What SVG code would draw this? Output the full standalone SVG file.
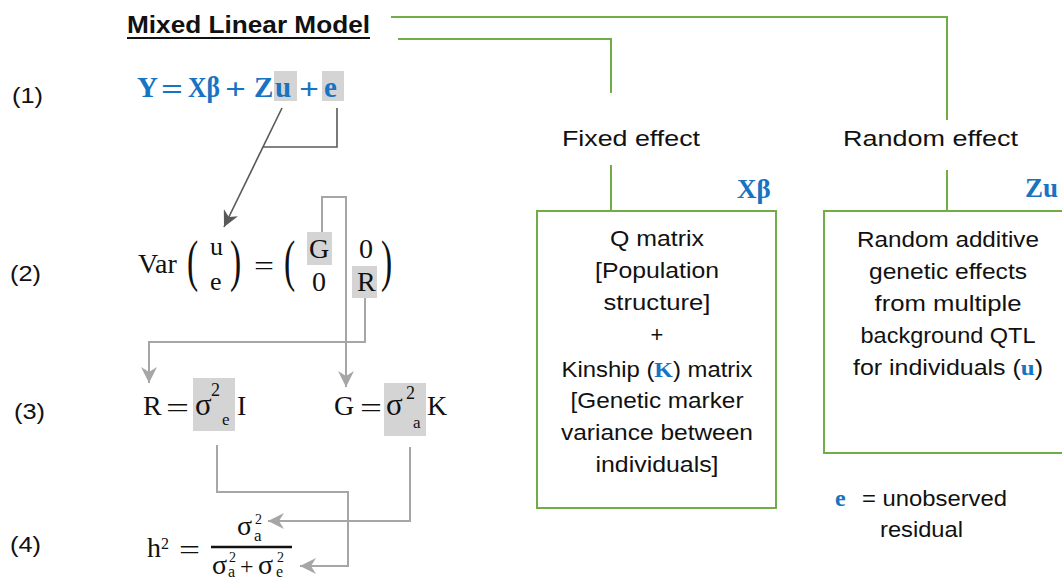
<svg xmlns="http://www.w3.org/2000/svg" width="1062" height="580" viewBox="0 0 1062 580">
<defs>
<style>
.sans{font-family:"Liberation Sans",Arial,sans-serif;fill:#111}
.lbl{font-size:22px}
.box{font-size:22px;text-anchor:middle}
.math{font-family:"Liberation Serif","DejaVu Serif",serif;fill:#111}
.blue{font-family:"Liberation Serif","DejaVu Serif",serif;font-weight:bold;fill:#1873C2}
.hl{fill:#D4D4D4}
.green{fill:none;stroke:#70AD47;stroke-width:2}
.gline{fill:none;stroke:#A6A6A6;stroke-width:2}
</style>
<marker id="ag" markerUnits="userSpaceOnUse" markerWidth="18" markerHeight="16" refX="16" refY="8" orient="auto">
<path d="M0,0 L16,8 L0,16 L5,8 Z" fill="#A6A6A6"/>
</marker>
<marker id="ad" markerUnits="userSpaceOnUse" markerWidth="18" markerHeight="16" refX="16" refY="8" orient="auto">
<path d="M0,0 L16,8 L0,16 L5,8 Z" fill="#595959"/>
</marker>
</defs>
<rect width="1062" height="580" fill="#fff"/>

<g id="connectors">
<polyline class="green" points="391,17 947,17 947,120"/>
<polyline class="green" points="398,39 611,39 611,93"/>
<line class="green" x1="611" y1="165" x2="611" y2="211"/>
<line class="green" x1="947" y1="170" x2="947" y2="211"/>
<line x1="282" y1="108" x2="224" y2="227" stroke="#595959" stroke-width="1.6" marker-end="url(#ad)"/>
<polyline points="337,108 337,147 263,147" fill="none" stroke="#595959" stroke-width="1.6"/>
<polyline class="gline" points="322,232 322,197 346,197 346,387" marker-end="url(#ag)"/>
<polyline class="gline" points="365,298 365,342 149,342 149,383" marker-end="url(#ag)"/>
<polyline class="gline" points="217,445 217,492 348,492 348,566 300,566" marker-end="url(#ag)"/>
<polyline class="gline" points="410,447 410,521 268,521" marker-end="url(#ag)"/>
</g>

<g id="title">
<text class="sans" x="127" y="33" font-size="24" font-weight="bold" textLength="243" lengthAdjust="spacingAndGlyphs">Mixed Linear Model</text>
<line x1="127" y1="38" x2="370" y2="38" stroke="#111" stroke-width="2"/>
</g>

<g id="labels">
<text class="sans lbl" x="12" y="103" textLength="31" lengthAdjust="spacingAndGlyphs">(1)</text>
<text class="sans lbl" x="10" y="281" textLength="31" lengthAdjust="spacingAndGlyphs">(2)</text>
<text class="sans lbl" x="14" y="419" textLength="31" lengthAdjust="spacingAndGlyphs">(3)</text>
<text class="sans lbl" x="10" y="552" textLength="31" lengthAdjust="spacingAndGlyphs">(4)</text>
</g>

<g id="eq1">
<rect class="hl" x="274" y="71" width="23" height="30"/>
<rect class="hl" x="322" y="71" width="22" height="30"/>
<text class="blue" font-size="29" x="137" y="97">Y</text>
<text class="blue" font-size="29" x="161" y="99" textLength="22" lengthAdjust="spacingAndGlyphs">=</text>
<text class="blue" font-size="29" x="188" y="97" textLength="32" lengthAdjust="spacingAndGlyphs">Xβ</text>
<text class="blue" font-size="29" x="225" y="99" textLength="21" lengthAdjust="spacingAndGlyphs">+</text>
<text class="blue" font-size="29" x="254" y="97">Z</text>
<text class="blue" font-size="29" x="275" y="97">u</text>
<text class="blue" font-size="29" x="299" y="99" textLength="20" lengthAdjust="spacingAndGlyphs">+</text>
<text class="blue" font-size="29" x="324" y="97">e</text>
</g>

<g id="eq2">
<rect class="hl" x="307" y="232" width="25" height="33"/>
<rect class="hl" x="352" y="266" width="25" height="32"/>
<text class="math" x="138" y="273" font-size="28">Var</text>
<text class="math" font-size="56" transform="translate(187,280) scale(0.6,1)">(</text>
<text class="math" font-size="56" transform="translate(230,280) scale(0.6,1)">)</text>
<text class="math" font-size="26" x="210" y="255">u</text>
<text class="math" font-size="26" x="210" y="290">e</text>
<text class="math" font-size="28" x="254" y="275" textLength="20" lengthAdjust="spacingAndGlyphs">=</text>
<text class="math" font-size="56" transform="translate(284,280) scale(0.6,1)">(</text>
<text class="math" font-size="56" transform="translate(381,280) scale(0.6,1)">)</text>
<text class="math" font-size="28" x="309" y="258">G</text>
<text class="math" font-size="28" x="359" y="258">0</text>
<text class="math" font-size="28" x="312" y="291">0</text>
<text class="math" font-size="28" x="357" y="291">R</text>
</g>

<g id="eq3">
<rect class="hl" x="193" y="378" width="42" height="53"/>
<rect class="hl" x="384" y="383" width="42" height="53"/>
<text class="math" font-size="28" x="143" y="415">R</text>
<text class="math" font-size="28" x="166" y="417" textLength="23" lengthAdjust="spacingAndGlyphs">=</text>
<text class="math" font-size="31" x="195" y="415">σ</text>
<text class="math" font-size="18" x="211" y="396">2</text>
<text class="math" font-size="17" x="222" y="425">e</text>
<text class="math" font-size="28" x="237" y="415">I</text>
<text class="math" font-size="28" x="334" y="415">G</text>
<text class="math" font-size="28" x="360" y="417" textLength="22" lengthAdjust="spacingAndGlyphs">=</text>
<text class="math" font-size="31" x="386" y="415">σ</text>
<text class="math" font-size="18" x="406" y="399">2</text>
<text class="math" font-size="17" x="413" y="428">a</text>
<text class="math" font-size="28" x="427" y="415">K</text>
</g>

<g id="eq4">
<text class="math" font-size="28" x="147" y="557">h</text>
<text class="math" font-size="16" x="161" y="549">2</text>
<text class="math" font-size="28" x="179" y="559" textLength="21" lengthAdjust="spacingAndGlyphs">=</text>
<line x1="211" y1="547" x2="292" y2="547" stroke="#111" stroke-width="2.5"/>
<text class="math" font-size="28" x="237" y="535">σ</text>
<text class="math" font-size="14" x="255" y="524">2</text>
<text class="math" font-size="17" x="254" y="541">a</text>
<text class="math" font-size="28" x="212" y="574">σ</text>
<text class="math" font-size="14" x="229" y="562">2</text>
<text class="math" font-size="16" x="228" y="577">a</text>
<text class="math" font-size="24" x="240" y="574">+</text>
<text class="math" font-size="28" x="258" y="574">σ</text>
<text class="math" font-size="14" x="277" y="562">2</text>
<text class="math" font-size="16" x="276" y="577">e</text>
</g>

<g id="fixed">
<text class="sans lbl" x="562" y="146" textLength="138" lengthAdjust="spacingAndGlyphs">Fixed effect</text>
</g>
<g id="random">
<text class="sans lbl" x="843" y="146" textLength="175" lengthAdjust="spacingAndGlyphs">Random effect</text>
</g>

<g id="box-fixed">
<rect class="green" x="537" y="211" width="239" height="297"/>
<text class="blue" font-size="27" x="737" y="198">Xβ</text>
<text class="sans box" x="657" y="246" textLength="94" lengthAdjust="spacingAndGlyphs">Q matrix</text>
<text class="sans box" x="657" y="278" textLength="124" lengthAdjust="spacingAndGlyphs">[Population</text>
<text class="sans box" x="657" y="310" textLength="107" lengthAdjust="spacingAndGlyphs">structure]</text>
<text class="sans box" x="657" y="342">+</text>
<text class="sans box" x="657" y="377" textLength="191" lengthAdjust="spacingAndGlyphs">Kinship (<tspan class="blue">K</tspan>) matrix</text>
<text class="sans box" x="657" y="408" textLength="173" lengthAdjust="spacingAndGlyphs">[Genetic marker</text>
<text class="sans box" x="657" y="440" textLength="192" lengthAdjust="spacingAndGlyphs">variance between</text>
<text class="sans box" x="657" y="472" textLength="123" lengthAdjust="spacingAndGlyphs">individuals]</text>
</g>

<g id="box-random">
<rect class="green" x="824" y="211" width="250" height="242"/>
<text class="blue" font-size="27" x="1025" y="197">Zu</text>
<text class="sans box" x="948" y="247" textLength="182" lengthAdjust="spacingAndGlyphs">Random additive</text>
<text class="sans box" x="948" y="279" textLength="158" lengthAdjust="spacingAndGlyphs">genetic effects</text>
<text class="sans box" x="948" y="311" textLength="147" lengthAdjust="spacingAndGlyphs">from multiple</text>
<text class="sans box" x="948" y="343" textLength="175" lengthAdjust="spacingAndGlyphs">background QTL</text>
<text class="sans box" x="948" y="375" textLength="190" lengthAdjust="spacingAndGlyphs">for individuals (<tspan class="blue">u</tspan>)</text>
</g>

<g id="legend">
<text class="blue" font-size="24" x="835" y="506">e</text>
<text class="sans lbl" x="862" y="506" textLength="145" lengthAdjust="spacingAndGlyphs">= unobserved</text>
<text class="sans lbl" x="880" y="537" textLength="83" lengthAdjust="spacingAndGlyphs">residual</text>
</g>
</svg>
